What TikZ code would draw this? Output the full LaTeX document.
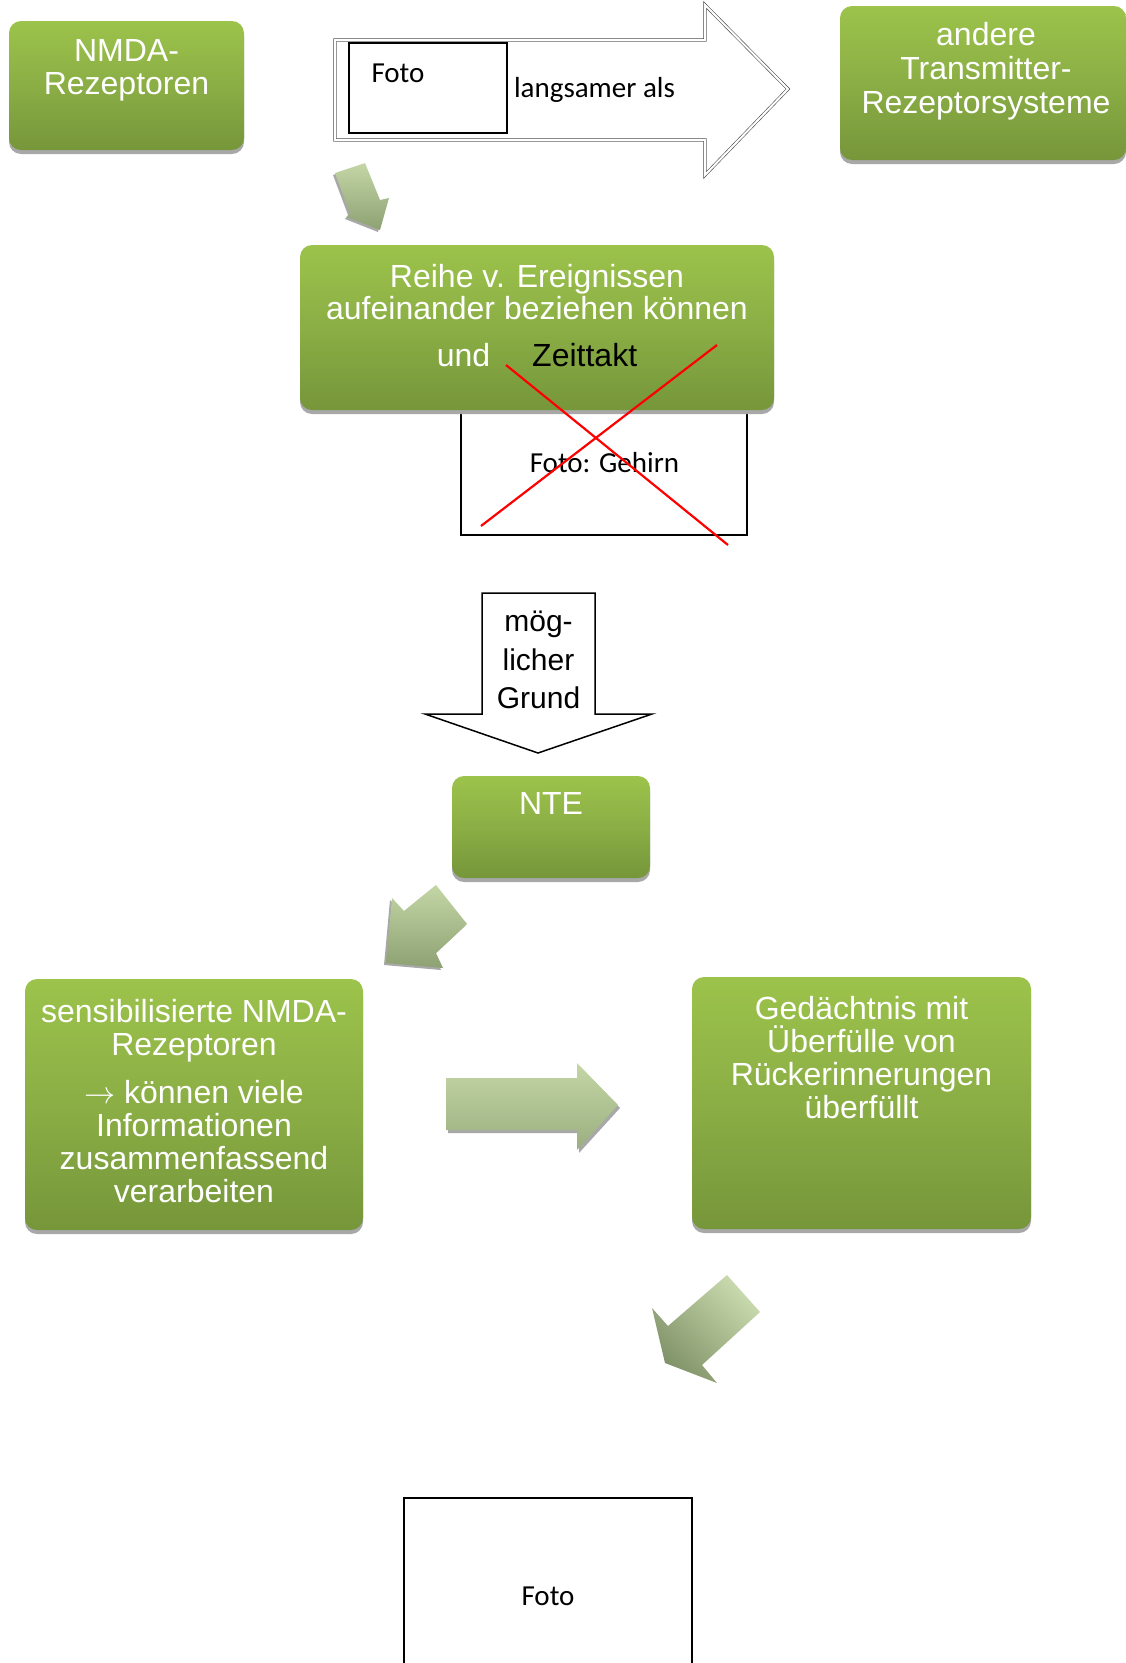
\documentclass[tikz,border=0pt]{standalone}
\usepackage{fontspec}
\setmainfont{Liberation Sans}
\newfontfamily\calibri{Carlito}
\usepackage{xcolor}
\usepackage{tikz}
\usetikzlibrary{shadows}
\definecolor{greentop}{HTML}{9CC34B}
\definecolor{greenmid}{HTML}{8BAE45}
\definecolor{greenbot}{HTML}{76963A}
\definecolor{arrowlight}{HTML}{C4D6A6}
\definecolor{arrowdark}{HTML}{8DA172}
\definecolor{shadowgray}{HTML}{A8A8A8}

\begin{document}
\begin{tikzpicture}[x=1pt,y=-1pt]
  \tikzset{greenbox/.style={rounded corners=12pt,top color=greentop,bottom color=greenbot,middle color=greenmid,drop shadow={shadow xshift=0pt,shadow yshift=-4pt,fill=shadowgray,opacity=1}},
    boxtext/.style={text=white,align=center,inner sep=0pt,anchor=north,font=\fontsize{32}{33}\selectfont},
    fotobox/.style={draw=black,line width=1.5pt,fill=white,inner sep=0pt},
    fototext/.style={font=\calibri\fontsize{29}{34}\selectfont,inner sep=0pt,anchor=base},
    blockarrow/.style={top color=arrowlight,bottom color=arrowdark},
    crossline/.style={draw=red,line width=2.2pt}}

  \useasboundingbox (0,0) rectangle (1126,1663);
  \clip (0,0) rectangle (1126,1663);

  \draw[draw=black!70,double=white,double distance=2pt,line width=0.6pt,fill=white]
    (335,40) -- (705,40) -- (705,5) -- (788,89) -- (705,175) -- (705,140) -- (335,140) -- cycle;
  \node[fotobox,minimum width=158pt,minimum height=90pt] (fotoA) at (428,88) {};
  \node[fototext] (fotoA-text) at (398,82) {Foto};
  \node[fototext] (slower) at (594.5,97) {langsamer als};

  \node[greenbox,minimum width=235pt,minimum height=129pt] (nmda) at (126.5,85.5) {};
  \node[boxtext] (nmda-text) at ([yshift=-18pt]nmda.north) {NMDA-\\Rezeptoren};

  \node[greenbox,minimum width=286pt,minimum height=154pt] (andere) at (983,83) {};
  \node[boxtext,font=\fontsize{32}{34}\selectfont] (andere-text) at ([xshift=3pt,yshift=-16pt]andere.north)
    {andere\\Transmitter-\\Rezeptorsysteme};

  \path[blockarrow,drop shadow={shadow xshift=-2pt,shadow yshift=-2pt,fill=shadowgray,opacity=1}]
    (335,173) -- (365,163) -- (380,200) -- (389,198) -- (380,230) -- (347,217) -- (350,213) -- cycle;

  \node[fotobox,minimum width=286pt,minimum height=140pt] (fotoB) at (604,465) {};
  \node[fototext] (fotoB-text) at (604.5,472) {Foto: Gehirn};

  \node[greenbox,minimum width=474pt,minimum height=165pt] (reihe) at (537,327.5) {};
  \node[boxtext,font=\fontsize{32}{32}\selectfont] (reihe-text) at ([yshift=-19pt]reihe.north)
    {Reihe v. Ereignissen\\aufeinander beziehen können\\[15pt]und\hspace{42pt}\textcolor{black}{Zeittakt}};

  \draw[crossline] (506,365) -- (728,545);
  \draw[crossline] (481,526) -- (717,345);

  \draw[line width=1.5pt,fill=white]
    (482,593) -- (595,593) -- (595,714) -- (652,714) -- (538,753) -- (425,714) -- (482,714) -- cycle;
  \node[align=center,inner sep=0pt,anchor=north,font=\fontsize{30}{38.5}\selectfont] (grund) at (538.5,611)
    {mög-\\licher\\Grund};

  \node[greenbox,minimum width=198pt,minimum height=102pt] (nte) at (551,827) {};
  \node[boxtext] (nte-text) at ([yshift=-16pt]nte.north) {NTE};

  \path[blockarrow,drop shadow={shadow xshift=-2pt,shadow yshift=-2pt,fill=shadowgray,opacity=1}]
    (436,885) -- (467,924) -- (436,953) -- (443,968) -- (386,963) -- (392,898) -- (404,911) -- cycle;

  \node[greenbox,minimum width=338pt,minimum height=251pt] (sensib) at (194,1104.5) {};
  \node[boxtext] (sensib-text) at ([yshift=-20pt]sensib.north)
    {sensibilisierte NMDA-\\Rezeptoren\\[15pt]\scalebox{1.25}{$\rightarrow$} können viele\\Informationen\\zusammenfassend\\verarbeiten};

  \path[blockarrow,bottom color=arrowdark!75!arrowlight,drop shadow={shadow xshift=2pt,shadow yshift=-3pt,fill=shadowgray,opacity=1}]
    (446,1078) -- (577,1078) -- (577,1063) -- (618,1105) -- (577,1150) -- (577,1130) -- (446,1130) -- cycle;

  \node[greenbox,minimum width=339pt,minimum height=252pt] (gedaechtnis) at (861.5,1103) {};
  \node[boxtext] (gedaechtnis-text) at ([yshift=-19pt]gedaechtnis.north)
    {Gedächtnis mit\\Überfülle von\\Rückerinnerungen\\überfüllt};

  \path[top color=arrowlight!90!white,bottom color=arrowdark!90!black,shading angle=-45]
    (727,1275) -- (760,1312) -- (702,1365) -- (717,1383) -- (665,1363) -- (652,1308) -- (668,1326) -- cycle;

  \node[fotobox,minimum width=288pt,minimum height=200pt] (fotoC) at (548,1598) {};
  \node[fototext] (fotoC-text) at (548,1605) {Foto};
\end{tikzpicture}
\end{document}
